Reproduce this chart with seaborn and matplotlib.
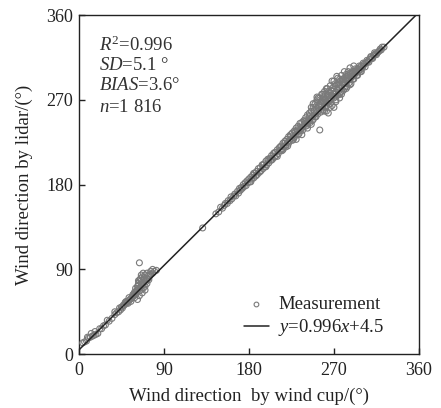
import matplotlib
matplotlib.use("Agg")
import matplotlib.pyplot as plt
import seaborn as sns
import numpy as np
import pandas as pd

# ---- data ----
low_x = [4, 6, 8, 10, 12, 14, 16, 18, 20, 24, 28, 32, 35, 38, 40, 42, 44, 45, 46, 48,
         50, 51, 52, 53, 54, 55, 56, 57, 58, 59, 60, 60, 61, 62, 62, 63, 63, 64, 64, 65,
         65, 66, 66, 67, 67, 68, 68, 69, 70, 70, 71, 72, 73, 74, 75, 76, 78, 80, 82, 64,
         58, 61, 63, 66, 69, 72, 55, 50, 47,
         62, 64, 66, 68, 60, 63, 67, 70, 72, 74, 76, 78, 59, 57, 53, 49, 43, 38, 30, 26,
         22, 9, 13, 17]
low_y = [12, 13, 14, 17, 18, 19, 20, 21, 22, 27, 31, 35, 38, 42, 44, 45, 47, 50, 49, 52,
         54, 55, 54, 57, 58, 56, 60, 61, 62, 60, 63, 66, 65, 68, 72, 70, 75, 67, 78, 71,
         80, 73, 69, 76, 82, 74, 70, 79, 72, 84, 77, 75, 80, 79, 83, 85, 86, 88, 89, 97,
         64, 67, 73, 78, 81, 86, 59, 56, 52,
         58, 62, 84, 86, 70, 78, 65, 68, 80, 84, 88, 90, 66, 63, 60, 55, 49, 45, 36, 30,
         27, 18, 22, 24]

mid_x = [131, 145, 148, 150, 152, 154, 155, 157, 158, 160, 161, 162, 164, 165, 166, 168,
         169, 170, 171, 172, 173, 174, 175, 176, 177, 178, 179, 180, 181, 182, 183, 184,
         185, 186, 187, 188, 189, 190, 191, 192, 193, 194, 195, 196, 197, 198, 199, 200,
         201, 202, 203, 204, 205, 206, 207, 208, 209, 210]
mid_y = [134, 149, 151, 156, 155, 158, 160, 160, 163, 163, 167, 165, 168, 170, 168, 173,
         171, 176, 174, 177, 176, 180, 178, 182, 179, 184, 182, 186, 183, 188, 186, 190,
         187, 192, 189, 194, 191, 197, 193, 198, 195, 201, 197, 202, 199, 205, 201, 207,
         203, 208, 206, 211, 207, 213, 209, 214, 211, 217]

high_x = [211, 212, 213, 214, 215, 216, 217, 218, 219, 220, 221, 222, 223, 224, 225, 226,
          227, 228, 229, 230, 231, 232, 233, 234, 235, 236, 237, 238, 239, 240, 241, 242,
          243, 244, 245, 246, 247, 248, 249, 250, 251, 252, 253, 254, 255, 256, 257, 258,
          259, 260, 261, 262, 263, 264, 265, 266, 267, 268, 269, 270, 271, 272, 273, 274,
          275, 276, 277, 278, 279, 280, 281, 282, 283, 284, 285, 286, 287, 288, 289, 290,
          291, 292, 293, 294, 295, 296, 297, 298, 299, 300, 302, 304, 306, 308, 310, 312,
          314, 316, 318, 320]
high_y = [213, 219, 216, 221, 218, 224, 220, 226, 222, 228, 225, 231, 227, 233, 229, 235,
          230, 237, 233, 240, 236, 242, 237, 245, 239, 246, 241, 248, 244, 251, 246, 254,
          247, 256, 250, 258, 252, 262, 254, 266, 256, 270, 258, 263, 238, 262, 268, 263,
          272, 266, 276, 268, 274, 267, 278, 271, 280, 274, 283, 276, 285, 278, 286, 280,
          288, 283, 290, 284, 292, 287, 293, 288, 295, 290, 296, 291, 297, 293, 298, 295,
          300, 297, 301, 299, 303, 300, 304, 302, 306, 304, 308, 309, 311, 313, 314, 317,
          319, 320, 322, 323]

extra_x = [215, 222, 228, 235, 242, 248, 253, 258, 262, 266, 270, 274, 278, 282, 286, 290,
           294, 298, 262, 268, 272, 276, 280, 284, 250, 245, 240, 233, 226, 219, 263, 258,
           255, 252, 260, 266, 270, 274, 278, 285, 264, 270, 276, 245, 249, 256, 261, 267,
           273, 279, 283, 288, 292, 296, 301, 305, 309, 313, 240, 236, 231, 257, 265, 271]
extra_y = [216, 224, 230, 237, 243, 249, 255, 259, 263, 266, 272, 275, 279, 284, 288, 292,
           296, 300, 258, 264, 270, 276, 280, 284, 252, 246, 242, 234, 227, 220, 282, 276,
           272, 273, 279, 285, 290, 293, 296, 300, 256, 262, 272, 254, 259, 265, 270, 275,
           282, 288, 291, 295, 298, 301, 306, 310, 315, 318, 247, 241, 238, 260, 269, 277]

dense_x = [182, 185, 188, 192, 195, 198, 201, 204, 207, 210, 213, 216, 218, 221, 224, 227,
           229, 232, 234, 237, 239, 242, 244, 247, 249, 251, 254, 256, 259, 261, 264, 267,
           269, 272, 275, 277, 279, 281, 284, 287, 289, 291, 293, 295, 297, 299, 301, 303,
           305, 307, 309, 311, 313, 315, 317, 319, 321, 323,
           248, 253, 257, 262, 268, 273, 281, 287, 291, 246, 252, 259, 264, 271, 276, 283,
           260, 266, 272, 278, 283, 288, 246, 242, 236, 230]
dense_y = [183, 192, 190, 194, 201, 199, 206, 206, 214, 210, 220, 217, 224, 221, 231, 228,
           236, 233, 241, 238, 247, 245, 252, 248, 258, 252, 265, 257, 268, 262, 275, 270,
           279, 274, 286, 278, 291, 282, 293, 286, 300, 292, 303, 296, 306, 300, 309, 305,
           312, 310, 316, 314, 320, 318, 321, 324, 326, 326,
           266, 272, 276, 282, 290, 295, 300, 304, 306, 262, 268, 274, 279, 287, 292, 297,
           258, 262, 268, 276, 282, 287, 244, 240, 233, 228]

fit_slope = 0.996
fit_intercept = 4.5
ticks = [0, 90, 180, 270, 360]

# ---- style ----
sns.set_theme(style="ticks")
plt.rcParams['font.family'] = ['Liberation Serif', 'DejaVu Serif']
plt.rcParams['mathtext.fontset'] = 'custom'
plt.rcParams['mathtext.rm'] = 'Liberation Serif'
plt.rcParams['mathtext.it'] = 'Liberation Serif:italic'

df = pd.DataFrame({
    "x": low_x + mid_x + high_x + extra_x + dense_x,
    "y": low_y + mid_y + high_y + extra_y + dense_y,
})

fig = plt.figure(figsize=(4.41, 4.08), dpi=100)
ax = fig.add_axes([0.179, 0.132, 0.771, 0.831])

sns.scatterplot(data=df, x="x", y="y", ax=ax, marker="o", s=18,
                facecolor="none", edgecolor="#7a7a7a", linewidth=0.8,
                label="Measurement", zorder=3)
lx = np.array([0, 360])
ax.plot(lx, fit_slope * lx + fit_intercept, color="#222222", lw=1.1,
        label=r"$y$=0.996$x$+4.5", zorder=4)

ax.set_xlim(0, 360)
ax.set_ylim(0, 360)
ax.set_xticks(ticks)
ax.set_yticks(ticks)
ax.tick_params(direction="in", length=4, width=1, labelsize=13, colors="#222222",
               labelcolor="#222222")
ax.tick_params(axis="x", pad=6)
ax.tick_params(axis="y", pad=4)
for sp in ax.spines.values():
    sp.set_linewidth(1.0)
    sp.set_color("#222222")

ax.set_xlabel("Wind direction  by wind cup/(°)", fontsize=13.5, color="#222222", labelpad=6)
ax.set_ylabel("Wind direction by lidar/(°)", fontsize=13.5, color="#222222", labelpad=10)

txt_kw = dict(transform=ax.transAxes, fontsize=13.5, color="#333333", va="top", ha="left")
ax.text(0.06, 0.940, r"$R^2$=0.996", **txt_kw)
ax.text(0.06, 0.877, r"$SD$=5.1 °", **txt_kw)
ax.text(0.06, 0.817, r"$BIAS$=3.6°", **txt_kw)
ax.text(0.06, 0.754, r"$n$=1 816", **txt_kw)

leg = ax.legend(loc="lower right", frameon=False, fontsize=13.5, handlelength=1.3,
                handletextpad=0.5, borderaxespad=0.0, labelspacing=0.2,
                markerscale=0.8, bbox_to_anchor=(0.92, 0.025))
for t in leg.get_texts():
    t.set_color("#222222")

fig.savefig("out.png", dpi=100)
